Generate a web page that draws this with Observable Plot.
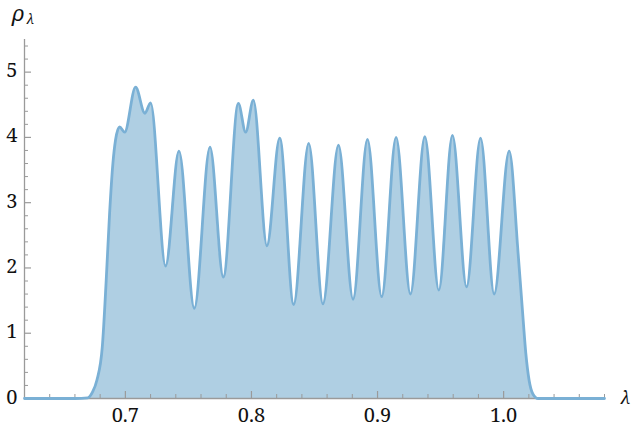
<!DOCTYPE html>
<html>
<head>
<meta charset="utf-8">
<script src="https://cdn.jsdelivr.net/npm/d3@7"></script>
<script src="https://cdn.jsdelivr.net/npm/@observablehq/plot@0.6"></script>
<style>
  html, body { margin: 0; padding: 0; background: #fff; }
  svg { display: block; }
</style>
</head>
<body>
<div id="chart"></div>
<script>
// λ values (x) and ρ_λ values (y)
const lambda = [0.620, 0.660, 0.6702, 0.6740, 0.6774, 0.6817, 0.6848, 0.6875, 0.6901, 0.6922,
  0.6954, 0.6994, 0.7081, 0.7155, 0.7200, 0.7319, 0.7425, 0.7547, 0.7671, 0.7777,
  0.7896, 0.7954, 0.8015, 0.8123, 0.8224, 0.8335, 0.8454, 0.8567, 0.8690, 0.8806,
  0.8920, 0.9033, 0.9147, 0.9261, 0.9375, 0.9486, 0.9594, 0.9706, 0.9817, 0.9925,
  1.0044, 1.0115, 1.0155, 1.0176, 1.0202, 1.0232, 1.0274, 1.080];
const rho = [0, 0, 0.01, 0.10, 0.28, 0.79, 1.81, 2.84, 3.60, 3.96,
  4.16, 4.08, 4.77, 4.37, 4.53, 2.03, 3.79, 1.38, 3.85, 1.86,
  4.52, 4.08, 4.57, 2.34, 3.99, 1.44, 3.91, 1.45, 3.88, 1.52,
  3.97, 1.56, 4.00, 1.60, 4.01, 1.66, 4.03, 1.71, 3.99, 1.60,
  3.79, 2.22, 1.20, 0.69, 0.28, 0.07, 0, 0];

const xMajor = [0.7, 0.8, 0.9, 1.0];
const xMajorLabels = ["0.7", "0.8", "0.9", "1.0"];
const xMinor = [0.62, 0.64, 0.66, 0.68, 0.72, 0.74, 0.76, 0.78, 0.82, 0.84, 0.86, 0.88,
  0.92, 0.94, 0.96, 0.98, 1.02, 1.04, 1.06, 1.08];
const yMajor = [0, 1, 2, 3, 4, 5];
const yMajorLabels = ["0", "1", "2", "3", "4", "5"];
const yMinor = [0.2, 0.4, 0.6, 0.8, 1.2, 1.4, 1.6, 1.8, 2.2, 2.4, 2.6, 2.8,
  3.2, 3.4, 3.6, 3.8, 4.2, 4.4, 4.6, 4.8, 5.2, 5.4];

const data = lambda.map((l, i) => ({lambda: l, rho: rho[i]}));

const X0 = 0.62, X1 = 1.08, Y0 = 0, Y1 = 5.5;
const W = 634, H = 432, mL = 24, mR = 30, mT = 39, mB = 34;
// tick lengths converted to data units
const pxX = (X1 - X0) / (W - mL - mR);
const pxY = (Y1 - Y0) / (H - mT - mB);

const axisColor = "#9a9a9a";
const font = "'Noto Serif', 'Liberation Serif', serif";

const chart = Plot.plot({
  width: W,
  height: H,
  marginLeft: mL,
  marginRight: mR,
  marginTop: mT,
  marginBottom: mB,
  style: {fontFamily: font, fontSize: "20px", color: "#111", background: "#fff", overflow: "visible"},
  x: {domain: [X0, X1], axis: null},
  y: {domain: [Y0, Y1], axis: null},
  marks: [
    Plot.areaY(data, {x: "lambda", y: "rho", curve: "monotone-x", fill: "#afcfe3"}),
    // axis lines
    Plot.ruleY([0], {stroke: axisColor, strokeWidth: 1.3}),
    Plot.ruleX([X0], {stroke: axisColor, strokeWidth: 1.3}),
    // x ticks (inward)
    Plot.ruleX(xMajor, {x: d => d, y1: 0, y2: 7 * pxY, stroke: axisColor, strokeWidth: 1.2}),
    Plot.ruleX(xMinor, {x: d => d, y1: 0, y2: 4 * pxY, stroke: axisColor, strokeWidth: 1}),
    // y ticks (inward)
    Plot.ruleY(yMajor, {y: d => d, x1: X0, x2: X0 + 7 * pxX, stroke: axisColor, strokeWidth: 1.2}),
    Plot.ruleY(yMinor, {y: d => d, x1: X0, x2: X0 + 4 * pxX, stroke: axisColor, strokeWidth: 1}),
    // curve
    Plot.lineY(data, {x: "lambda", y: "rho", curve: "monotone-x", stroke: "#7ab0d5", strokeWidth: 2.8, strokeLinejoin: "round"}),
    // tick labels
    Plot.text(xMajor, {x: d => d, y: 0, text: (d, i) => xMajorLabels[i], dy: 23, lineAnchor: "bottom", fontSize: 20, fontFamily: font, fill: "#111"}),
    Plot.text(yMajor, {x: X0, y: d => d, text: (d, i) => yMajorLabels[i], dx: -7, dy: 5, lineAnchor: "bottom", textAnchor: "end", fontSize: 20, fontFamily: font, fill: "#111"}),
    // axis titles
    Plot.text(["ρ"], {frameAnchor: "top-left", dx: -12, dy: -19, text: d => d, fontSize: 21, fontFamily: font, fontStyle: "italic", textAnchor: "start", lineAnchor: "bottom", fill: "#111"}),
    Plot.text(["λ"], {frameAnchor: "top-left", dx: 2, dy: -16, text: d => d, fontSize: 14, fontFamily: font, fontStyle: "italic", textAnchor: "start", lineAnchor: "bottom", fill: "#111"}),
    Plot.text(["λ"], {x: X1, y: 0, dx: 16, dy: 5, text: d => d, fontSize: 18, fontFamily: font, fontStyle: "italic", textAnchor: "start", lineAnchor: "bottom", fill: "#111"})
  ]
});
document.getElementById("chart").appendChild(chart);
</script>
</body>
</html>
